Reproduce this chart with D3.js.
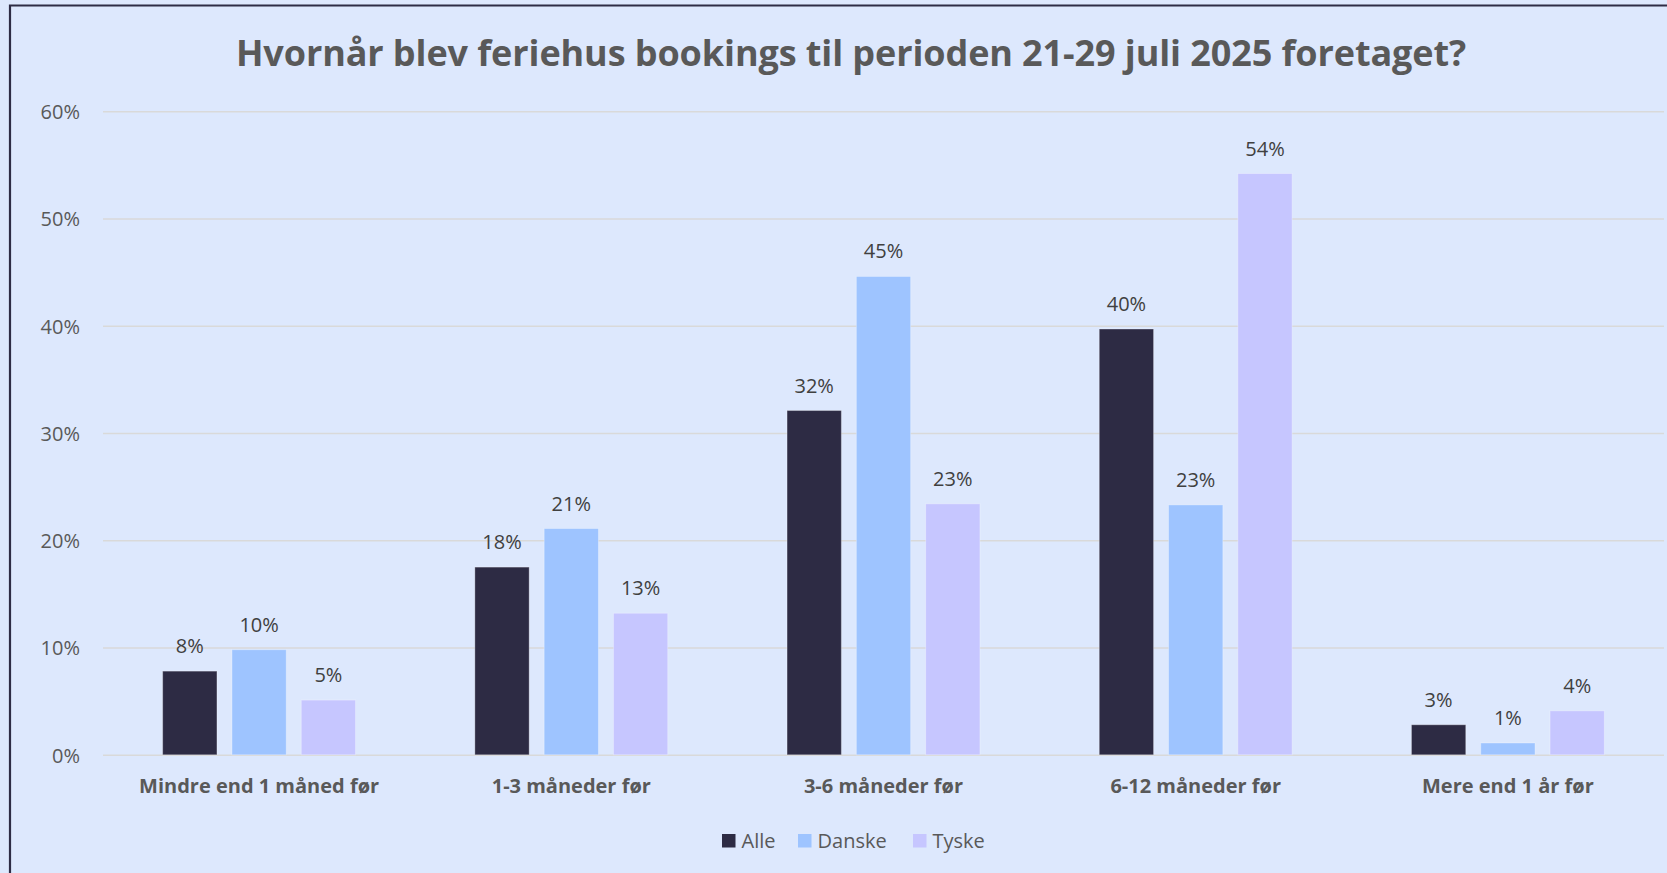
<!DOCTYPE html>
<html>
<head>
<meta charset="utf-8">
<script src="https://cdn.jsdelivr.net/npm/d3@7"></script>
<style>
  html, body { margin: 0; padding: 0; background: #dde8fd; }
  svg { display: block; }
  text { font-family: "Open Sans", sans-serif; }
</style>
</head>
<body>
<div id="chart"></div>
<script>

// categories, series and values (percent)
var categories = ["Mindre end 1 måned før", "1-3 måneder før", "3-6 måneder før", "6-12 måneder før", "Mere end 1 år før"];
var series = ["Alle", "Danske", "Tyske"];
var alle = [7.8, 17.5, 32.1, 39.7, 2.8];
var danske = [9.8, 21.1, 44.6, 23.3, 1.1];
var tyske = [5.1, 13.2, 23.4, 54.2, 4.1];
var yTicks = [0, 10, 20, 30, 40, 50, 60];
var colors = ["#2d2b44", "#9ec4ff", "#c6c6ff"];

// sizes
var width = 1667,
	height = 873,
	margin = {top: 111, right: 3, bottom: 117, left: 103};

var svg = d3.select("#chart").append("svg")
	.attr("width", width)
	.attr("height", height);

// background and frame
svg.append("rect")
	.attr("width", width)
	.attr("height", height)
	.attr("fill", "#dde8fd");

svg.append("path")
	.attr("d", "M10," + height + "V5.5H" + width)
	.attr("fill", "none")
	.attr("stroke", "#2e2c45")
	.attr("stroke-width", 2.2);

// rows for the grouped bars
var rows = categories.map(function(c, i){

	return {cat: c, vals: [alle[i], danske[i], tyske[i]]};
});

// scales
var x0 = d3.scaleBand()
	.domain(categories)
	.range([margin.left, width - margin.right]);

var x1 = d3.scaleBand()
	.domain(series)
	.range([0, x0.bandwidth()])
	.paddingInner(0.2165)
	.paddingOuter(0.861);

var y = d3.scaleLinear()
	.domain([0, 60])
	.range([height - margin.bottom - 1.2, margin.top + 0.3]);

// title
svg.append("text")
	.attr("x", 851)
	.attr("y", 66)
	.attr("text-anchor", "middle")
	.attr("fill", "#595959")
	.style("font-weight", "bold")
	.style("font-size", "36px")
	.style("letter-spacing", "-0.1px")
	.text("Hvornår blev feriehus bookings til perioden 21-29 juli 2025 foretaget?");

// y axis with gridlines
var yAxis = svg.append("g")
	.attr("transform", "translate(" + margin.left + ",0)")
	.call(d3.axisLeft(y)
		.tickValues(yTicks)
		.tickSize(-(width - margin.left - margin.right))
		.tickFormat(function(d){ return d + "%"; }));

yAxis.select(".domain").remove();
yAxis.selectAll(".tick line")
	.attr("stroke", "#d9d9d9")
	.attr("stroke-width", 1.6);
yAxis.selectAll(".tick text")
	.attr("x", -23)
	.attr("dy", "0.36em")
	.attr("fill", "#595959")
	.style("font-size", "20px");

// bars
var groups = svg.selectAll(".group")
	.data(rows)
	.enter()
	.append("g")
	.attr("class", "group")
	.attr("transform", function(d){

		return "translate(" + x0(d.cat) + ",0)";
	});

var cells = groups.selectAll(".cell")
	.data(function(d){

		return d.vals.map(function(v, i){ return {s: series[i], v: v, i: i}; });
	})
	.enter()
	.append("g")
	.attr("class", "cell");

cells.append("rect")
	.attr("x", function(d){ return x1(d.s); })
	.attr("y", function(d){ return y(d.v); })
	.attr("width", x1.bandwidth())
	.attr("height", function(d){ return y(0) - y(d.v); })
	.attr("fill", function(d){ return colors[d.i]; })
	.attr("stroke", "rgba(255,255,255,0.3)")
	.attr("stroke-width", 1);

// value labels
cells.append("text")
	.attr("x", function(d){ return x1(d.s) + x1.bandwidth() / 2; })
	.attr("y", function(d){ return y(d.v) - 18; })
	.attr("text-anchor", "middle")
	.attr("fill", "#404040")
	.style("font-size", "20px")
	.text(function(d){ return d3.format(".0f")(d.v) + "%"; });

// category labels
svg.selectAll(".catlabel")
	.data(categories)
	.enter()
	.append("text")
	.attr("class", "catlabel")
	.attr("x", function(d){ return x0(d) + x0.bandwidth() / 2; })
	.attr("y", y(0) + 38)
	.attr("text-anchor", "middle")
	.attr("fill", "#595959")
	.style("font-weight", "bold")
	.style("font-size", "20px")
	.text(function(d){ return d; });

// legend
var legendX = [722, 798, 913];
var legend = svg.selectAll(".legend")
	.data(series)
	.enter()
	.append("g")
	.attr("class", "legend")
	.attr("transform", function(d, i){

		return "translate(" + legendX[i] + ",834)";
	});

legend.append("rect")
	.attr("width", 13.5)
	.attr("height", 13.5)
	.attr("fill", function(d, i){ return colors[i]; });

legend.append("text")
	.attr("x", 19.5)
	.attr("y", 13.5)
	.attr("fill", "#595959")
	.style("font-size", "20px")
	.text(function(d){ return d; });

</script>
</body>
</html>
